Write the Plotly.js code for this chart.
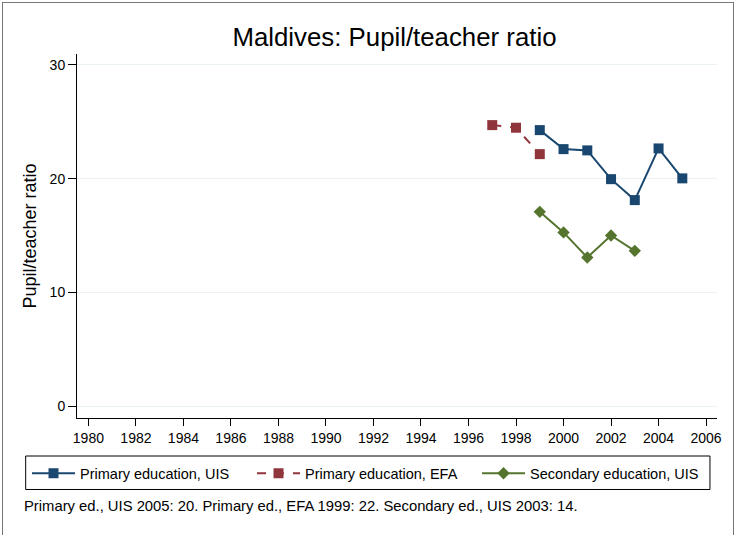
<!DOCTYPE html>
<html><head><meta charset="utf-8">
<script src="https://cdn.plot.ly/plotly-3.0.1.min.js"></script>
<style>
html,body{margin:0;padding:0;background:#fff;}
#frame{position:absolute;left:2px;top:2px;width:732px;height:540px;border:1px solid #777;box-sizing:border-box;pointer-events:none;}
#chart{position:absolute;left:0;top:0;width:736px;height:535px;}
</style>
</head><body>
<div id="chart"></div>
<div id="frame"></div>
<script>
const uisYears = [1999, 2000, 2001, 2002, 2003, 2004, 2005];
const uisPrimary = [24.27, 22.6, 22.49, 19.96, 18.12, 22.66, 20.03];
const efaYears = [1997, 1998, 1999];
const efaPrimary = [24.71, 24.48, 22.16];
const secYears = [1999, 2000, 2001, 2002, 2003];
const uisSecondary = [17.09, 15.28, 13.08, 15.01, 13.66];
const xTicks = [1980,1982,1984,1986,1988,1990,1992,1994,1996,1998,2000,2002,2004,2006];
const yTicks = [0, 10, 20, 30];
const seriesNames = ["Primary education, UIS", "Primary education, EFA", "Secondary education, UIS"];
const footnote = "Primary ed., UIS 2005: 20. Primary ed., EFA 1999: 22. Secondary ed., UIS 2003: 14.";

const font = "Liberation Sans, Arial, sans-serif";
const traces = [
  {x: uisYears, y: uisPrimary, name: seriesNames[0], mode: "lines+markers",
   line: {color: "#1a476f", width: 2}, marker: {symbol: "square", size: 10, color: "#1a476f"}},
  {x: efaYears, y: efaPrimary, name: seriesNames[1], mode: "lines+markers",
   line: {color: "#90353b", width: 2, dash: "dash"}, marker: {symbol: "square", size: 10, color: "#90353b"}},
  {x: secYears, y: uisSecondary, name: seriesNames[2], mode: "lines+markers",
   line: {color: "#55752f", width: 2}, marker: {symbol: "diamond", size: 9.5, color: "#55752f"}}
];
const layout = {
  width: 736, height: 535,
  margin: {l: 77, r: 19, t: 54, b: 117},
  paper_bgcolor: "#fff", plot_bgcolor: "#fff",
  font: {family: font, size: 14, color: "#000"},
  title: {text: "Maldives: Pupil/teacher ratio", font: {size: 25.8, family: font, color: "#000"},
          x: 0.536, xanchor: "center", y: 0.93, yanchor: "middle"},
  xaxis: {range: [1979.52, 2006.46], tickvals: xTicks, ticktext: xTicks.map(String),
          ticks: "outside", ticklen: 7, tickcolor: "#000", showgrid: false, zeroline: false,
          showline: true, linecolor: "#000", linewidth: 1, tickfont: {size: 14}},
  yaxis: {range: [-1.03, 30.96], tickvals: yTicks, ticks: "outside", ticklen: 8, tickcolor: "#000",
          showgrid: true, gridcolor: "#eaf2f3", gridwidth: 1, zeroline: false,
          showline: true, linecolor: "#000", linewidth: 1, tickfont: {size: 14},
          title: {text: "Pupil/teacher ratio", font: {size: 18}, standoff: 8}},
  showlegend: true,
  legend: {orientation: "h", x: -0.0781, xanchor: "left", y: -0.1081, yanchor: "top",
           bordercolor: "#000", borderwidth: 0, bgcolor: "rgba(0,0,0,0)", font: {size: 14.5},
           entrywidth: 167, entrywidthmode: "pixels", itemwidth: 43, traceorder: "normal"},
  shapes: [{type: "rect", xref: "paper", yref: "paper", x0: -0.0802, x1: 0.989, y0: -0.1044, y1: -0.1964,
            line: {color: "#000", width: 1}, fillcolor: "rgba(0,0,0,0)"}],
  annotations: [{text: footnote, xref: "paper", yref: "paper", x: -0.0859, y: -0.2415,
                 xanchor: "left", yanchor: "middle", showarrow: false, font: {size: 14.8}}]
};
Plotly.newPlot("chart", traces, layout, {staticPlot: true});
</script>
</body></html>
